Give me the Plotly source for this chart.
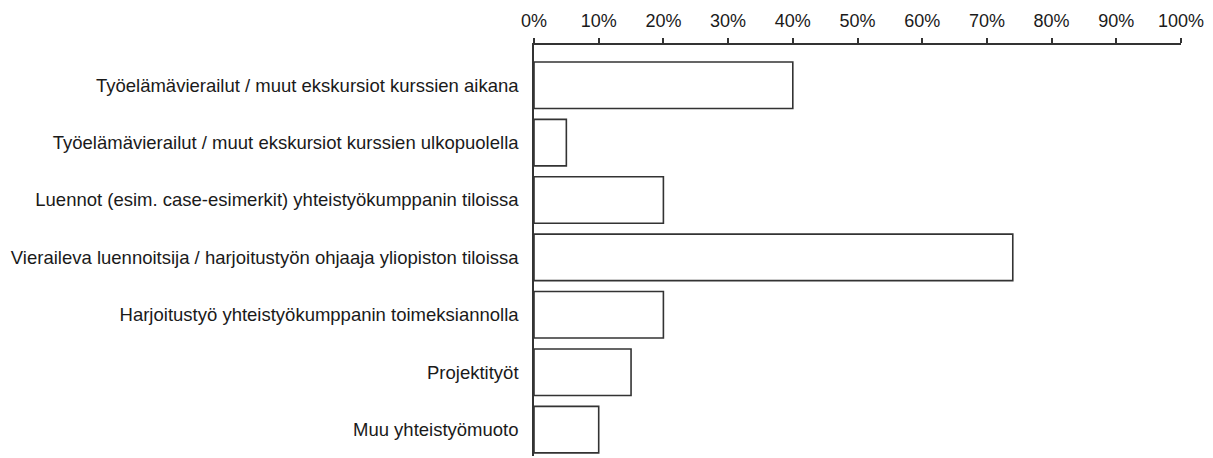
import plotly.graph_objects as go

categories = [
    "Työelämävierailut / muut ekskursiot kurssien aikana",
    "Työelämävierailut / muut ekskursiot kurssien ulkopuolella",
    "Luennot (esim. case-esimerkit) yhteistyökumppanin tiloissa",
    "Vieraileva luennoitsija / harjoitustyön ohjaaja yliopiston tiloissa",
    "Harjoitustyö yhteistyökumppanin toimeksiannolla",
    "Projektityöt",
    "Muu yhteistyömuoto",
]
values = [40, 5, 20, 74, 20, 15, 10]
tick_vals = list(range(0, 101, 10))
tick_text = [f"{v}%" for v in tick_vals]

INK = "#333333"

fig = go.Figure(go.Bar(
    x=values, y=categories, orientation="h",
    marker={"color": "white", "line": {"color": INK, "width": 1.6}},
    width=0.81, showlegend=False, hoverinfo="x+y",
))

# la página tiene 8 px de margen en body -> la figura se dibuja desplazada
fig.update_layout(
    width=1205, height=450,
    paper_bgcolor="white", plot_bgcolor="white",
    margin={"l": 526, "r": 32, "t": 37, "b": 2},
    font={"family": "Liberation Sans, Arial, sans-serif", "size": 18, "color": "#1a1a1a"},
    bargap=0.2,
)
fig.update_xaxes(
    side="top", range=[0, 100], tickvals=tick_vals, ticktext=tick_text,
    showgrid=False, zeroline=False, showline=True, linecolor=INK, linewidth=1.5,
    ticks="outside", ticklen=5, tickwidth=1.5, tickcolor=INK,
    ticklabelstandoff=4, tickfont={"size": 18}, fixedrange=True,
)
fig.update_yaxes(
    range=[6.46, -0.7], showgrid=False, zeroline=False,
    showline=True, linecolor=INK, linewidth=1.5,
    ticks="", ticklabelstandoff=10, tickfont={"size": 18.5}, fixedrange=True,
)

fig.write_html("out.html")
